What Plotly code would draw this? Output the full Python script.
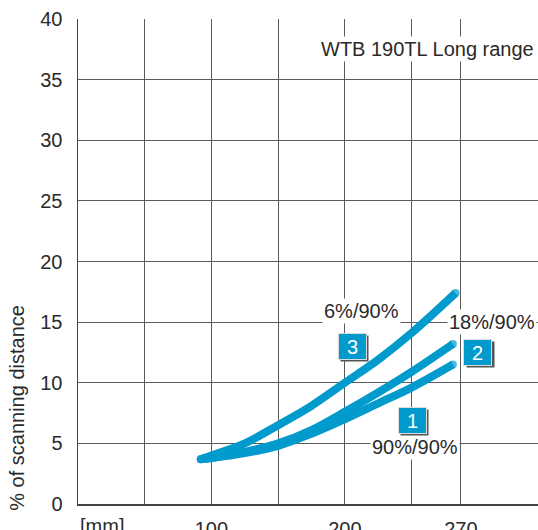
import plotly.graph_objects as go

# ---- data ----
curve_names = ["90%/90%", "18%/90%", "6%/90%"]
x_mm = [92, 100, 125, 150, 175, 200, 225, 250, 281]
y_90 = [3.7, 3.8, 4.2, 4.8, 5.8, 7.0, 8.3, 9.6, 11.5]
y_18 = [3.7, 3.8, 4.3, 5.0, 6.1, 7.6, 9.2, 10.9, 13.2]
y_6 = [3.7, 4.0, 5.0, 6.5, 8.1, 10.0, 11.9, 14.1, 17.4]
x_6 = [92, 100, 125, 150, 175, 200, 225, 250, 283]

x_grid = [0, 50, 100, 150, 200, 250, 287]
x_ticktext = ["", "", "100", "", "200", "", "270"]
y_ticks = [0, 5, 10, 15, 20, 25, 30, 35, 40]

BLUE = "#009ACD"
TXT = "#2a2a2a"
FONT = "Liberation Sans"
FS = 20

fig = go.Figure()

series = [(x_mm, y_90), (x_mm, y_18), (x_6, y_6)]
for name, (xs, ys) in zip(curve_names, series):
    sizes = [8] + [0] * (len(xs) - 2) + [8]
    fig.add_trace(go.Scatter(
        x=xs, y=ys, name=name, mode="lines+markers",
        line=dict(color=BLUE, width=8, shape="spline", smoothing=1.0),
        marker=dict(size=sizes, color=BLUE, line=dict(width=0)),
        showlegend=False, hoverinfo="skip"))

ann = []
# curve labels with white background
labels = [("6%/90%", 212.3, 15.9), ("18%/90%", 310.5, 15.0), ("90%/90%", 252.9, 4.7),
          ("WTB 190TL Long range", 261.6, 37.5)]
for t, x, y in labels:
    ann.append(dict(x=x, y=y, xref="x", yref="y", text=t, showarrow=False,
                    font=dict(family=FONT, size=FS, color=TXT),
                    bgcolor="white", borderpad=1))

# badges
badges = [("3", 205.4, 13.0), ("2", 299.5, 12.5), ("1", 250.4, 6.9)]
for t, x, y in badges:
    ann.append(dict(x=x, y=y, xref="x", yref="y", text="", showarrow=False,
                    width=27, height=25, bgcolor="#555555", xshift=2.5, yshift=-2.5,
                    borderpad=0))
    ann.append(dict(x=x, y=y, xref="x", yref="y", text=t, showarrow=False,
                    width=27, height=25, bgcolor=BLUE, bordercolor="#dcdcdc",
                    borderwidth=1, borderpad=0,
                    font=dict(family=FONT, size=FS, color="white")))

ann.append(dict(x=0, y=0, xref="paper", yref="paper", text="[mm]", showarrow=False,
                xanchor="left", yanchor="top", yshift=-9,
                font=dict(family=FONT, size=FS, color=TXT)))
ann.append(dict(x=-0.132, y=0.199, xref="paper", yref="paper",
                xanchor="center", yanchor="middle",
                text="% of scanning distance", showarrow=False, textangle=-90,
                font=dict(family=FONT, size=FS, color=TXT)))

fig.update_layout(
    width=538, height=530,
    margin=dict(l=78, r=0, t=19, b=26, pad=0, autoexpand=False),
    paper_bgcolor="white", plot_bgcolor="white",
    font=dict(family=FONT, size=FS, color=TXT),
    annotations=ann,
    xaxis=dict(range=[0, 344.8], tickmode="array", tickvals=x_grid, ticktext=x_ticktext,
               showgrid=True, gridcolor="#5a5a5a", gridwidth=1, zeroline=False,
               showline=True, linecolor="#444", linewidth=1.5, ticks="", automargin=False,
               ticklabelstandoff=6, tickfont=dict(family=FONT, size=FS, color=TXT)),
    yaxis=dict(range=[0, 40], tickmode="array", tickvals=y_ticks,
               showgrid=True, gridcolor="#5a5a5a", gridwidth=1, zeroline=False,
               showline=True, linecolor="#444", linewidth=1.5, ticks="", automargin=False,
               ticklabelstandoff=10, tickfont=dict(family=FONT, size=FS, color=TXT)),
)

fig.write_html("out.html",
               config={"displayModeBar": False, "staticPlot": True},
               post_script="document.body.style.margin='0';"
                           "document.body.style.overflow='hidden';")
